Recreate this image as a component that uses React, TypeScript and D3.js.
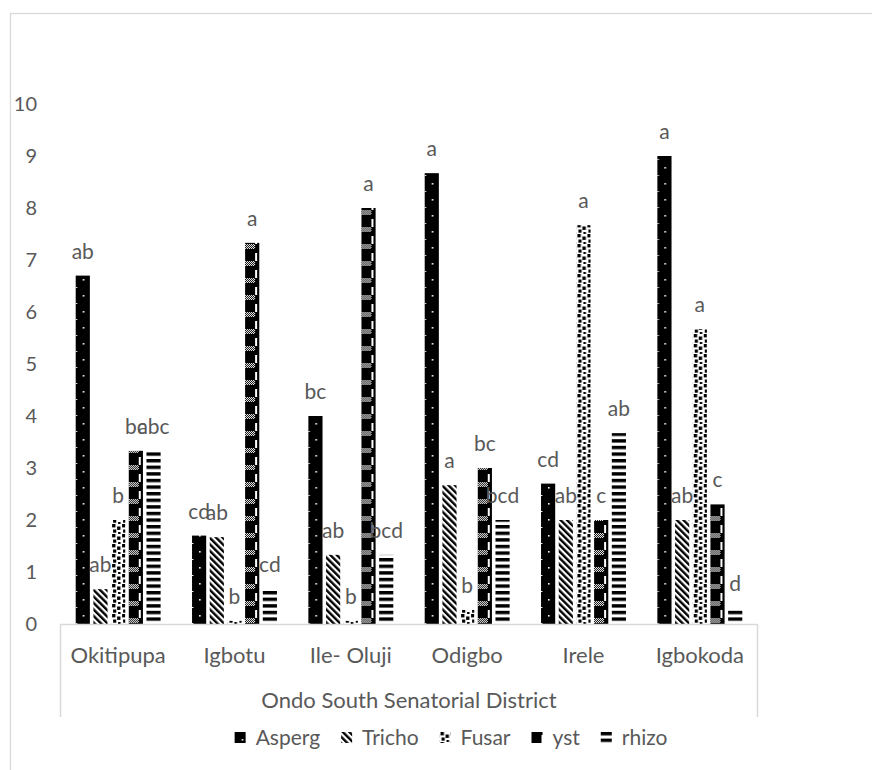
import React from 'react';
import * as d3 from 'd3';

const categories = ['Okitipupa', 'Igbotu', 'Ile- Oluji', 'Odigbo', 'Irele', 'Igbokoda'];
const seriesNames = ['Asperg', 'Tricho', 'Fusar', 'yst', 'rhizo'];
const asperg = [6.7, 1.7, 4.0, 8.67, 2.7, 9.0];
const tricho = [0.67, 1.67, 1.33, 2.67, 2.0, 2.0];
const fusar = [2.0, 0.06, 0.06, 0.27, 7.67, 5.67];
const yst = [3.33, 7.33, 8.0, 3.0, 2.0, 2.3];
const rhizo = [3.33, 0.67, 1.33, 2.0, 3.67, 0.3];
const aspergLabels = ['ab', 'cd', 'bc', 'a', 'cd', 'a'];
const trichoLabels = ['ab', 'ab', 'ab', 'a', 'ab', 'ab'];
const fusarLabels = ['b', 'b', 'b', 'b', 'a', 'a'];
const ystLabels = ['bc', 'a', 'a', 'bc', 'c', 'c'];
const rhizoLabels = ['abc', 'cd', 'bcd', 'bcd', 'ab', 'd'];
const yTicks = [0, 1, 2, 3, 4, 5, 6, 7, 8, 9, 10];
const xAxisTitle = 'Ondo South Senatorial District';

const W = 872;
const H = 770;
const FONT = 'Lato, "Open Sans", sans-serif';
const TEXT = '#595959';
const LINE = '#d9d9d9';

const seriesValues = [asperg, tricho, fusar, yst, rhizo];
const seriesLabels = [aspergLabels, trichoLabels, fusarLabels, ystLabels, rhizoLabels];
const patternIds = ['p-asperg', 'p-tricho', 'p-fusar', 'p-yst', 'p-rhizo'];

function measure(text: string, size: number) {
  const c = document.createElement('canvas').getContext('2d');
  if (!c) return text.length * size * 0.5;
  c.font = `${size}px Lato`;
  return c.measureText(text).width;
}

export default function App() {
  const plotLeft = 60;
  const plotRight = 758;
  const baseY = 624;
  const x0 = d3.scaleBand<string>().domain(categories).range([plotLeft, plotRight]).paddingInner(0.27).paddingOuter(0.135);
  const x1 = d3.scaleBand<string>().domain(seriesNames).range([0, x0.bandwidth()]).paddingInner(0.2);
  const y = d3.scaleLinear().domain([0, 10]).range([baseY, 104]);

  const bars = categories.flatMap((c, ci) =>
    seriesNames.map((s, si) => ({
      key: `${c}-${s}`,
      x: (x0(c) ?? 0) + (x1(s) ?? 0),
      v: seriesValues[si][ci],
      label: seriesLabels[si][ci],
      pid: patternIds[si],
    }))
  );

  // legend layout
  const legendSize = 21;
  const iconW = 11;
  const iconGap = 10;
  const itemGap = 21;
  const widths = seriesNames.map((s) => iconW + iconGap + measure(s, legendSize));
  const total = d3.sum(widths) + itemGap * (seriesNames.length - 1);
  let cursor = 451 - total / 2;
  const legendItems = seriesNames.map((s, i) => {
    const item = { name: s, x: cursor, pid: patternIds[i] };
    cursor += widths[i] + itemGap;
    return item;
  });

  return (
    <svg
      width={W}
      height={H}
      viewBox={`0 0 ${W} ${H}`}
      style={{ position: 'absolute', left: 0, top: 0, background: '#fff' }}
      fontFamily={FONT}
    >
      <defs>
        <pattern id="checker" width={2} height={2} patternUnits="userSpaceOnUse">
          <rect width={2} height={2} fill="#fff" />
          <rect width={1} height={1} fill="#000" />
          <rect x={1} y={1} width={1} height={1} fill="#000" />
        </pattern>
        <pattern id="p-asperg" width={16} height={16} patternUnits="userSpaceOnUse">
          <rect width={16} height={16} fill="#000" />
          <rect x={7} y={7} width={1.6} height={1.6} fill="#fff" />
          <rect x={0} y={15} width={1.4} height={1.4} fill="#fff" />
        </pattern>
        <pattern id="p-tricho" width={4.6} height={4.6} patternUnits="userSpaceOnUse" patternTransform="rotate(-45)">
          <rect width={4.6} height={4.6} fill="#fff" />
          <rect width={2.4} height={4.6} fill="#000" />
        </pattern>
        <pattern id="p-fusar" width={10} height={10} patternUnits="userSpaceOnUse">
          <rect width={10} height={10} fill="#fff" />
          <rect x={1} y={0} width={3.4} height={3.4} fill="#000" />
          <rect x={6} y={2.5} width={3.4} height={3.4} fill="#000" />
          <rect x={2} y={5.5} width={3.2} height={3.2} fill="#000" />
          <rect x={7} y={8} width={2.5} height={2} fill="#000" />
        </pattern>
        <pattern id="p-yst" width={16} height={17} patternUnits="userSpaceOnUse">
          <rect width={16} height={17} fill="#000" />
          <rect x={0} y={11} width={10} height={5} fill="url(#checker)" />
          <rect x={10} y={3} width={2} height={8} fill="#fff" />
        </pattern>
        <pattern id="p-rhizo" width={16} height={6.6} patternUnits="userSpaceOnUse">
          <rect width={16} height={6.6} fill="#fff" />
          <rect x={0} y={0} width={16} height={3.4} fill="#000" />
        </pattern>
      </defs>

      {/* chart border */}
      <rect x={10.5} y={13.5} width={W + 20} height={H + 20} fill="none" stroke={LINE} strokeWidth={1.3} />

      {/* y tick labels */}
      {yTicks.map((t) => (
        <text key={t} x={37} y={y(t)} dy="0.35em" textAnchor="end" fontSize={20} fill={TEXT}>
          {t}
        </text>
      ))}

      {/* bars */}
      {bars.map((b) => {
        const h = baseY - y(b.v);
        return (
          <g key={b.key} transform={`translate(${b.x},${baseY})`}>
            <rect x={0} y={-h} width={x1.bandwidth()} height={h} fill={`url(#${b.pid})`} />
          </g>
        );
      })}

      {/* data labels */}
      {bars.map((b) => (
        <text
          key={`l-${b.key}`}
          x={b.x + x1.bandwidth() / 2}
          y={y(b.v) - 17}
          textAnchor="middle"
          fontSize={21}
          fill={TEXT}
        >
          {b.label}
        </text>
      ))}

      {/* category axis box */}
      <path
        d={`M${plotLeft},${baseY + 0.5}H${plotRight}M${plotLeft + 0.5},${baseY}V717M${plotRight - 0.5},${baseY}V717`}
        fill="none"
        stroke={LINE}
        strokeWidth={1.5}
      />
      {categories.map((c) => (
        <text key={c} x={(x0(c) ?? 0) + x0.bandwidth() / 2} y={663} textAnchor="middle" fontSize={22} fill={TEXT}>
          {c}
        </text>
      ))}
      <text x={(plotLeft + plotRight) / 2} y={708} textAnchor="middle" fontSize={22} fill={TEXT}>
        {xAxisTitle}
      </text>

      {/* legend */}
      {legendItems.map((it) => (
        <g key={it.name} transform={`translate(${it.x},732)`}>
          <rect x={0} y={0} width={iconW} height={iconW} fill={`url(#${it.pid})`} />
          <text x={iconW + iconGap} y={iconW / 2} dy="0.35em" fontSize={legendSize} fill={TEXT}>
            {it.name}
          </text>
        </g>
      ))}
    </svg>
  );
}
